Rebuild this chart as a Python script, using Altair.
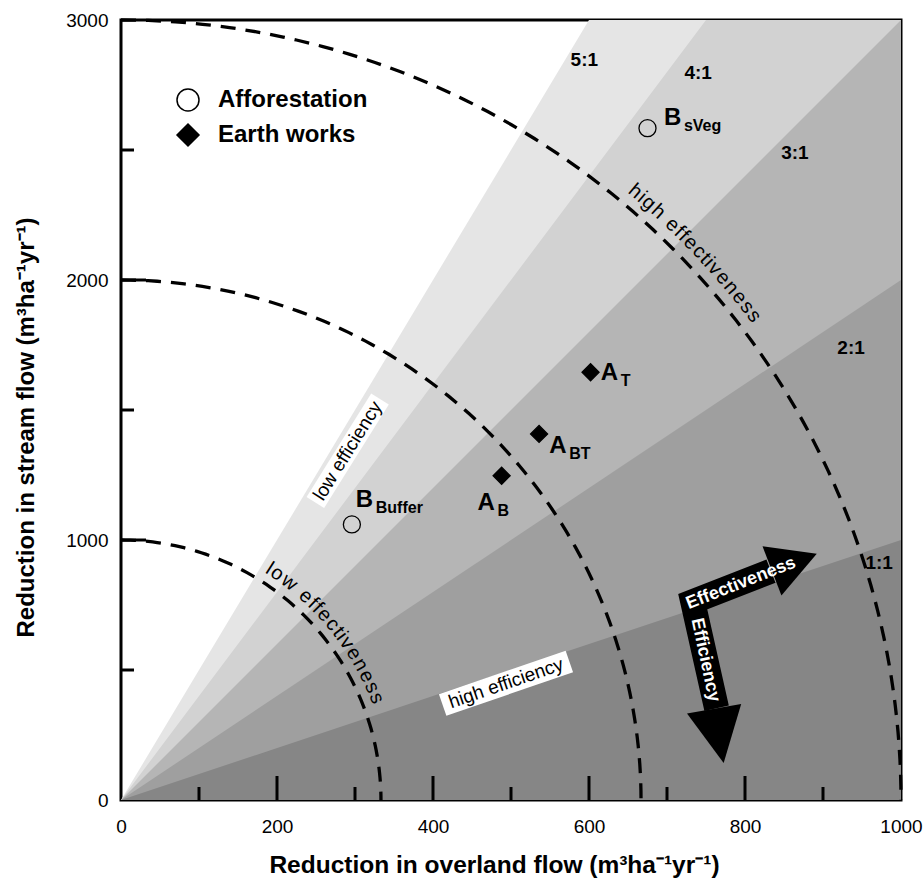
import altair as alt
import numpy as np
import pandas as pd

FONT = "Liberation Sans"

# ---------------- data ----------------
X_DOMAIN = [0, 1000]
Y_DOMAIN = [0, 3000]

band_ratio = [5, 4, 3, 2, 1]
band_color = ["#e5e5e5", "#d2d2d2", "#b5b5b5", "#9f9f9f", "#868686"]

ratio_text = ["5:1", "4:1", "3:1", "2:1", "1:1"]
ratio_text_x = [594, 740, 864, 936, 972]
ratio_text_y = [2846, 2796, 2488, 1738, 911]

arc_id = [1, 2, 3]
arc_x_intercept = [333.3, 666.7, 1000.0]
arc_y_intercept = [1000.0, 2000.0, 3000.0]

point_type = ["Afforestation", "Afforestation", "Earth works", "Earth works", "Earth works"]
point_x = [296, 675, 602, 536, 488]
point_y = [1060, 2584, 1645, 1408, 1247]
point_main = ["B", "B", "A", "A", "A"]
point_sub = ["Buffer", "sVeg", "T", "BT", "B"]
label_x = [301, 696, 615, 549, 457]
label_y = [1128, 2598, 1615, 1333, 1115]

x_tick_labels = [0, 200, 400, 600, 800, 1000]
y_tick_labels = [0, 1000, 2000, 3000]
x_ticks_major = [200, 400, 600, 800]
x_ticks_minor = [100, 300, 500, 700, 900]
y_ticks_major = [1000, 2000]
y_ticks_minor = [500, 1500, 2500]

# boxed annotations
box_text = ["low efficiency", "high efficiency"]
box_x = [290.6, 493.6]
box_y = [1343, 449]

# arrows (data coordinates)
shaft_x = [833.3, 733.0, 763.6]
shaft_y = [880.0, 762.7, 352.7]
head_eff_x, head_eff_y = [863.3], [914.4]
head_effi_x, head_effi_y = [766.5], [246.9]
eff_text_x, eff_text_y = [794.9], [833.3]
effi_text_x, effi_text_y = [749.1], [538.5]

# curved labels along the dashed arcs: (text, arc index, first/last char angle in degrees)
curved_labels = [("low effectiveness", 0, 57.3, 21.7), ("high effectiveness", 2, 49.8, 37.4)]
curved_gap = [1.035, None, 1.014]

# Arial advance widths (em) used to space characters along the arcs
CHAR_EM = {"l": .222, "o": .556, "w": .722, " ": .278, "e": .556, "f": .278, "c": .5,
           "t": .278, "i": .222, "v": .5, "n": .556, "s": .5, "h": .556, "g": .556}


def arc_chars(text, idx, th_first, th_last):
    w = np.array([CHAR_EM[c] for c in text])
    centers = np.cumsum(w) - w / 2
    frac = (centers - centers[0]) / (centers[-1] - centers[0])
    th = th_first + (th_last - th_first) * frac
    rad = np.deg2rad(th)
    g = curved_gap[idx]
    return pd.DataFrame({
        "ch": list(text),
        "x": arc_x_intercept[idx] * g * np.cos(rad),
        "y": arc_y_intercept[idx] * g * np.sin(rad),
        "ang": (90 - th) % 360,
    })


X = lambda **kw: alt.X("x:Q", **kw)
Y = lambda **kw: alt.Y("y:Q", **kw)

x_axis = alt.Axis(values=x_tick_labels, format="d", ticks=False, domain=False, grid=False,
                  labelFontSize=19, labelPadding=17, labelFlush=False, labelColor="black",
                  title="Reduction in overland flow (m³ha⁻¹yr⁻¹)", titleFontSize=24.5,
                  titleFontWeight="bold", titleColor="black", titleX=373, titleY=72,
                  titleBaseline="alphabetic", titleAnchor="middle")
y_axis = alt.Axis(values=y_tick_labels, format="d", ticks=False, domain=False, grid=False,
                  labelFontSize=19, labelPadding=13, labelColor="black",
                  title="Reduction in stream flow (m³ha⁻¹yr⁻¹)", titleFontSize=24,
                  titleFontWeight="bold", titleColor="black", titleX=-88, titleY=407,
                  titleAngle=270, titleBaseline="alphabetic", titleAlign="center")

layers = []

# ---- shaded ratio bands ----
for i, (k, c) in enumerate(zip(band_ratio, band_color)):
    d = pd.DataFrame({"x": [X_DOMAIN[0], X_DOMAIN[1]], "y": [0, X_DOMAIN[1] * k]})
    if i == 0:
        enc = dict(x=X(scale=alt.Scale(domain=X_DOMAIN, nice=False, zero=False), axis=x_axis),
                   y=Y(scale=alt.Scale(domain=Y_DOMAIN, nice=False, zero=False), axis=y_axis))
    else:
        enc = dict(x=X(), y=Y())
    layers.append(alt.Chart(d).mark_area(color=c, clip=True, opacity=1, strokeWidth=0)
                  .encode(y2=alt.datum(0), **enc))

# ---- inside ticks ----
layers.append(alt.Chart(pd.DataFrame({"x": x_ticks_major})).mark_rule(color="black", strokeWidth=3)
              .encode(x=X(), y=alt.value(780), y2=alt.value(756)))
layers.append(alt.Chart(pd.DataFrame({"x": x_ticks_minor})).mark_rule(color="black", strokeWidth=3)
              .encode(x=X(), y=alt.value(780), y2=alt.value(767)))
layers.append(alt.Chart(pd.DataFrame({"y": y_ticks_major})).mark_rule(color="black", strokeWidth=3)
              .encode(y=Y(), x=alt.value(0), x2=alt.value(25)))
layers.append(alt.Chart(pd.DataFrame({"y": y_ticks_minor})).mark_rule(color="black", strokeWidth=3)
              .encode(y=Y(), x=alt.value(0), x2=alt.value(13)))

# ---- dashed iso-effectiveness arcs ----
arc_df = pd.DataFrame({"arc": arc_id, "rx": arc_x_intercept, "ry": arc_y_intercept})
layers.append(
    alt.Chart(arc_df)
    .transform_calculate(t="sequence(0, 91, 1)")
    .transform_flatten(["t"])
    .transform_calculate(x="datum.rx * cos(datum.t * PI / 180)",
                         y="datum.ry * sin(datum.t * PI / 180)")
    .mark_line(color="black", strokeWidth=3.3, strokeDash=[15, 10], strokeCap="butt")
    .encode(x=X(), y=Y(), detail="arc:N", order=alt.Order("t:Q", sort="descending"))
)

# ---- ratio labels ----
layers.append(alt.Chart(pd.DataFrame({"x": ratio_text_x, "y": ratio_text_y, "t": ratio_text}))
              .mark_text(fontSize=19, fontWeight="bold", color="black", align="center", baseline="middle")
              .encode(x=X(), y=Y(), text="t:N"))

# ---- curved arc labels ----
for text, idx, t0, t1 in curved_labels:
    layers.append(alt.Chart(arc_chars(text, idx, t0, t1))
                  .mark_text(fontSize=20, color="black", align="center", baseline="alphabetic")
                  .encode(x=X(), y=Y(), text="ch:N", angle=alt.Angle("ang:Q", scale=None)))

# ---- white boxed efficiency labels ----
RECT = "M-1,-0.17L1,-0.17L1,0.17L-1,0.17Z"
box_angle = [302, 341]
box_len = [122, 134]
for i in range(2):
    d = pd.DataFrame({"x": [box_x[i]], "y": [box_y[i]], "t": [box_text[i]]})
    base = alt.Chart(d).encode(x=X(), y=Y())
    layers.append(base.mark_point(shape=RECT, filled=True, fill="white", strokeWidth=0, opacity=1,
                                  size=box_len[i] ** 2, angle=box_angle[i]))
    layers.append(base.mark_text(fontSize=19, color="black", align="center", baseline="middle",
                                 angle=box_angle[i]).encode(text="t:N"))

# ---- arrows ----
layers.append(alt.Chart(pd.DataFrame({"x": shaft_x, "y": shaft_y, "o": [0, 1, 2]}))
              .mark_line(color="black", strokeWidth=25, strokeJoin="miter", strokeCap="butt")
              .encode(x=X(), y=Y(), order="o:Q"))
TRI = "M-1,-1.1L1,0L-1,1.1Z"
layers.append(alt.Chart(pd.DataFrame({"x": head_eff_x, "y": head_eff_y}))
              .mark_point(shape=TRI, filled=True, fill="black", strokeWidth=0, opacity=1,
                          size=48 ** 2, angle=339)
              .encode(x=X(), y=Y()))
layers.append(alt.Chart(pd.DataFrame({"x": head_effi_x, "y": head_effi_y}))
              .mark_point(shape="M-1,-1L1,0L-1,1Z", filled=True, fill="black", strokeWidth=0,
                          opacity=1, size=55 ** 2, angle=80)
              .encode(x=X(), y=Y()))
layers.append(alt.Chart(pd.DataFrame({"x": eff_text_x, "y": eff_text_y, "t": ["Effectiveness"]}))
              .mark_text(fontSize=18, fontWeight="bold", color="white", align="center",
                         baseline="middle", angle=338.5)
              .encode(x=X(), y=Y(), text="t:N"))
layers.append(alt.Chart(pd.DataFrame({"x": effi_text_x, "y": effi_text_y, "t": ["Efficiency"]}))
              .mark_text(fontSize=18, fontWeight="bold", color="white", align="center",
                         baseline="middle", angle=78)
              .encode(x=X(), y=Y(), text="t:N"))

# ---- data points with legend ----
pts = pd.DataFrame({"x": point_x, "y": point_y, "type": point_type,
                    "lx": label_x, "ly": label_y, "main": point_main, "sub": point_sub})
type_domain = ["Afforestation", "Earth works"]
layers.append(alt.Chart(pts)
              .mark_point(filled=True, strokeWidth=1.3, size=290, opacity=1)
              .encode(x=X(), y=Y(),
                      fill=alt.Fill("type:N", scale=alt.Scale(domain=type_domain, range=["transparent", "black"]),
                                    legend=alt.Legend(title=None)),
                      stroke=alt.Stroke("type:N", scale=alt.Scale(domain=type_domain, range=["black", "black"]),
                                        legend=alt.Legend(title=None)),
                      shape=alt.Shape("type:N", scale=alt.Scale(domain=type_domain, range=["circle", "diamond"]),
                                      legend=alt.Legend(title=None))))

lab = alt.Chart(pts).encode(x=alt.X("lx:Q"), y=alt.Y("ly:Q"))
layers.append(lab.mark_text(fontSize=24, fontWeight="bold", color="black", align="left",
                            baseline="alphabetic").encode(text="main:N"))
layers.append(lab.mark_text(fontSize=16, fontWeight="bold", color="black", align="left",
                            baseline="alphabetic", dx=20, dy=6).encode(text="sub:N"))

chart = (
    alt.layer(*layers)
    .properties(width=780, height=780,
                padding={"left": 121, "top": 20, "right": 22, "bottom": 79},
                autosize=alt.AutoSizeParams(type="none"))
    .configure(font=FONT)
    .configure_view(stroke="black", strokeWidth=3)
    .configure_legend(orient="none", legendX=55, legendY=68, symbolSize=484,
                      labelFontSize=24, labelFontWeight="bold", labelColor="black",
                      rowPadding=7, labelOffset=18, symbolStrokeWidth=1.5,
                      padding=0, labelLimit=400)
)

chart.save("out.html", embed_options={"renderer": "svg", "actions": False})
